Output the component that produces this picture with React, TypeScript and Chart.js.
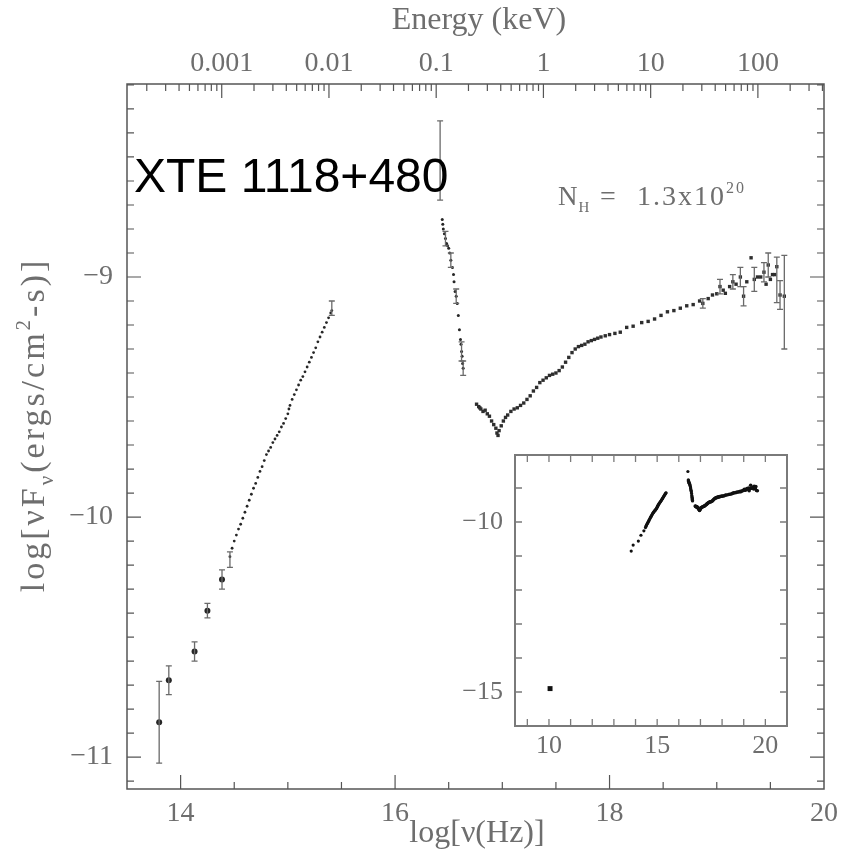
import React, { useEffect, useRef } from "react";
import { Chart, registerables } from "chart.js";

Chart.register(...registerables);

// ---------------- data (log nu [Hz], log nuFnu [ergs/cm^2/s]) ----------------
const irNu = [13.8, 13.89, 14.13, 14.25, 14.386];
const irFlux = [-10.855, -10.68, -10.56, -10.39, -10.26];

const optNu = [
  14.46, 14.48, 14.5, 14.52, 14.54, 14.56, 14.58, 14.6, 14.62, 14.64, 14.66, 14.68,
  14.7, 14.72, 14.74, 14.76, 14.78, 14.8, 14.82, 14.84, 14.86, 14.88, 14.9, 14.92,
  14.94, 14.96, 14.98, 15.0, 15.01, 15.02, 15.04, 15.06, 15.08, 15.1, 15.12, 15.14,
  15.16, 15.18, 15.2, 15.22, 15.24, 15.26, 15.28, 15.3, 15.32, 15.34, 15.36, 15.38,
  15.4, 15.41,
];
const optFlux = [
  -10.165, -10.13, -10.1, -10.075, -10.05, -10.03, -10.005, -9.98, -9.955, -9.93, -9.905, -9.88,
  -9.86, -9.835, -9.81, -9.79, -9.765, -9.74, -9.725, -9.71, -9.69, -9.675, -9.66, -9.645,
  -9.625, -9.61, -9.59, -9.57, -9.55, -9.535, -9.51, -9.49, -9.47, -9.45, -9.43, -9.415,
  -9.395, -9.375, -9.355, -9.335, -9.315, -9.295, -9.27, -9.25, -9.23, -9.21, -9.19, -9.17,
  -9.15, -9.14,
];

const euvNu = [
  16.42, 16.44, 16.445, 16.45, 16.46, 16.47, 16.48, 16.49, 16.5, 16.51, 16.52, 16.535,
  16.545, 16.55, 16.56, 16.57, 16.58, 16.59, 16.6, 16.61, 16.615, 16.62, 16.625, 16.63, 16.635,
];
const euvFlux = [
  -8.515, -8.76, -8.78, -8.8, -8.82, -8.84, -8.86, -8.87, -8.88, -8.9, -8.93, -8.96,
  -8.99, -9.02, -9.06, -9.08, -9.11, -9.16, -9.22, -9.26, -9.28, -9.31, -9.33, -9.36, -9.38,
];

const xrNu = [
  16.76, 16.78, 16.79, 16.8, 16.82, 16.84, 16.86, 16.88, 16.9, 16.92, 16.94, 16.95, 16.96,
  16.97, 16.99, 17.01, 17.03, 17.05, 17.08, 17.11, 17.14, 17.17, 17.2, 17.23, 17.26, 17.29,
  17.32, 17.35, 17.38, 17.41, 17.44, 17.47, 17.5, 17.53, 17.56, 17.59, 17.62, 17.65, 17.68,
  17.71, 17.74, 17.77, 17.8, 17.83, 17.86, 17.89, 17.92, 17.96, 18.0, 18.05, 18.1, 18.16,
  18.22, 18.3, 18.36, 18.42, 18.48, 18.54, 18.6, 18.66, 18.72, 18.78, 18.84, 18.87, 18.92,
  18.96, 19.0, 19.03, 19.06, 19.08, 19.12, 19.15, 19.18, 19.22, 19.25, 19.28, 19.32, 19.35,
  19.38, 19.41, 19.44, 19.46, 19.48, 19.5, 19.52, 19.54, 19.56, 19.59, 19.63,
];
const xrFlux = [
  -9.53, -9.54, -9.545, -9.55, -9.56, -9.555, -9.57, -9.58, -9.6, -9.615, -9.63, -9.65, -9.66,
  -9.64, -9.62, -9.6, -9.585, -9.575, -9.56, -9.55, -9.545, -9.535, -9.525, -9.51, -9.495, -9.475,
  -9.46, -9.44, -9.43, -9.42, -9.41, -9.405, -9.4, -9.39, -9.375, -9.355, -9.335, -9.315, -9.3,
  -9.29, -9.285, -9.28, -9.27, -9.265, -9.26, -9.255, -9.25, -9.245, -9.24, -9.235, -9.23, -9.21,
  -9.205, -9.19, -9.185, -9.175, -9.16, -9.145, -9.14, -9.13, -9.12, -9.115, -9.1, -9.11, -9.09,
  -9.075, -9.07, -9.04, -9.055, -9.068, -9.04, -9.02, -9.03, -9.0, -9.08, -9.02, -8.92, -9.01,
  -9.0, -9.0, -8.98, -9.03, -8.95, -9.01, -8.99, -8.99, -8.957, -9.075, -9.08,
];

// error bars: position, centre, minus, plus
const errBarNu = [
  13.8, 13.89, 14.13, 14.25, 14.386, 14.46, 15.41, 16.42, 16.47, 16.52, 16.57, 16.62, 16.635,
  18.87, 19.03, 19.15, 19.22, 19.25, 19.35, 19.44, 19.48, 19.56, 19.59, 19.63,
];
const errBarFlux = [
  -10.855, -10.68, -10.56, -10.39, -10.26, -10.165, -9.14, -8.515, -8.84, -8.93, -9.08, -9.31, -9.38,
  -9.11, -9.04, -9.02, -9.0, -9.08, -9.01, -8.98, -8.95, -8.957, -9.075, -9.08,
];
const errBarLo = [
  0.17, 0.06, 0.04, 0.03, 0.04, 0.045, 0.02, 0.165, 0.03, 0.03, 0.03, 0.04, 0.03,
  0.02, 0.03, 0.03, 0.04, 0.04, 0.05, 0.04, 0.05, 0.15, 0.06, 0.22,
];
const errBarHi = [
  0.17, 0.06, 0.04, 0.03, 0.04, 0.02, 0.04, 0.165, 0.03, 0.03, 0.03, 0.04, 0.03,
  0.02, 0.03, 0.03, 0.04, 0.04, 0.05, 0.04, 0.05, 0.04, 0.06, 0.17,
];

// radio point shown only in the inset
const radioNu = [10.05];
const radioFlux = [-14.9];

// ---------------- axes ----------------
const xTickValues = [14, 16, 18, 20];
const yTickValues = [-11, -10, -9];
const energyTickKeV = [0.001, 0.01, 0.1, 1, 10, 100];
const energyTickLabels = ["0.001", "0.01", "0.1", "1", "10", "100"];
const insetXTickValues = [10, 15, 20];
const insetYTickValues = [-15, -10];

const X_MIN = 13.5, X_MAX = 20;
const Y_MIN = -11.133, Y_MAX = -8.196;
const IX_MIN = 8.43, IX_MAX = 21.0;
const IY_MIN = -16.0, IY_MAX = -8.03;
const LOG_HZ_PER_KEV = 17.3834; // log10(2.418e17)

const SERIF = "'Liberation Serif', 'DejaVu Serif', serif";
const TEXT_GRAY = "#6e6e6e";
const FRAME = "#555";
const POINT = "#262626";

const toPts = (xs: number[], ys: number[]) => xs.map((x, i) => ({ x, y: ys[i] }));
const energyToLogNu = (e: number) => Math.log10(e) + LOG_HZ_PER_KEV;

function drawRich(ctx: CanvasRenderingContext2D, parts: { t: string; s?: "sub" | "sup" }[], size: number, spacing: number, cx: number, cy: number, rot: number) {
  const f = (p: { s?: string }) => `${p.s ? Math.round(size * 0.62) : size}px ${SERIF}`;
  ctx.save();
  (ctx as any).letterSpacing = `${spacing}px`;
  let total = 0;
  const widths = parts.map((p) => { ctx.font = f(p); const w = ctx.measureText(p.t).width; total += w; return w; });
  ctx.translate(cx, cy);
  ctx.rotate(rot);
  ctx.textBaseline = "alphabetic";
  ctx.textAlign = "left";
  let x = -total / 2;
  parts.forEach((p, i) => {
    ctx.font = f(p);
    const dy = p.s === "sub" ? size * 0.25 : p.s === "sup" ? -size * 0.42 : 0;
    ctx.fillText(p.t, x, size * 0.33 + dy);
    x += widths[i];
  });
  ctx.restore();
}

const mainDecor = {
  id: "mainDecor",
  afterDatasetsDraw(chart: any) {
    const { ctx } = chart;
    const xs = chart.scales.x, ys = chart.scales.y;
    ctx.save();
    ctx.strokeStyle = "#6a6a6a";
    ctx.lineWidth = 1.3;
    errBarNu.forEach((nu, i) => {
      const px = xs.getPixelForValue(nu);
      const yT = ys.getPixelForValue(errBarFlux[i] + errBarHi[i]);
      const yB = ys.getPixelForValue(errBarFlux[i] - errBarLo[i]);
      ctx.beginPath();
      ctx.moveTo(px, yT); ctx.lineTo(px, yB);
      ctx.moveTo(px - 3, yT); ctx.lineTo(px + 3, yT);
      ctx.moveTo(px - 3, yB); ctx.lineTo(px + 3, yB);
      ctx.stroke();
    });
    ctx.restore();
  },
  afterDraw(chart: any) {
    const { ctx } = chart;
    const { left, right, top, bottom } = chart.chartArea;
    const xs = chart.scales.x, ys = chart.scales.y;
    ctx.save();
    ctx.strokeStyle = FRAME;
    ctx.lineWidth = 1.5;
    ctx.strokeRect(left, top, right - left, bottom - top);
    ctx.lineWidth = 1.2;
    ctx.beginPath();
    // bottom ticks every 0.5
    for (let k = 27; k <= 40; k++) {
      const v = k / 2;
      const p = xs.getPixelForValue(v);
      if (p <= left + 1 || p >= right - 1) continue;
      const len = xTickValues.includes(v) ? 14 : 7;
      ctx.moveTo(p, bottom); ctx.lineTo(p, bottom - len);
    }
    // top ticks: log energy
    for (let d = -4; d <= 2; d++) {
      for (let m = 1; m <= 9; m++) {
        const v = energyToLogNu(m * Math.pow(10, d));
        if (v <= X_MIN || v >= X_MAX) continue;
        const p = xs.getPixelForValue(v);
        const len = m === 1 ? 14 : 7;
        ctx.moveTo(p, top); ctx.lineTo(p, top + len);
      }
    }
    // left/right ticks every 0.1
    for (let k = -112; k <= -82; k++) {
      const v = k / 10;
      if (v <= Y_MIN || v >= Y_MAX) continue;
      const p = ys.getPixelForValue(v);
      const len = k % 10 === 0 ? 14 : 7;
      ctx.moveTo(left, p); ctx.lineTo(left + len, p);
      ctx.moveTo(right, p); ctx.lineTo(right - len, p);
    }
    ctx.stroke();

    // axis titles
    ctx.fillStyle = TEXT_GRAY;
    ctx.textAlign = "center";
    ctx.textBaseline = "middle";
    ctx.font = `32px ${SERIF}`;
    ctx.fillText("Energy (keV)", 479, 21);
    ctx.fillText("log[\u03BD(Hz)]", 477, 834);
    drawRich(ctx, [
      { t: "log[\u03BDF" }, { t: "\u03BD", s: "sub" }, { t: "(ergs/cm" }, { t: "2", s: "sup" }, { t: "-s)]" },
    ], 34, 3, 33, 425, -Math.PI / 2);

    // N_H annotation
    ctx.textAlign = "left";
    ctx.textBaseline = "alphabetic";
    ctx.font = `27px ${SERIF}`;
    ctx.fillText("N", 558, 205);
    const wn = ctx.measureText("N").width;
    ctx.font = `15px ${SERIF}`;
    ctx.fillText("H", 558 + wn + 1, 212);
    ctx.font = `28px ${SERIF}`;
    ctx.fillText("=", 600, 205);
    const s = "1.3x10";
    (ctx as any).letterSpacing = "2px";
    ctx.fillText(s, 637, 205);
    const w = ctx.measureText(s).width;
    ctx.font = `16px ${SERIF}`;
    ctx.fillText("20", 637 + w, 193);
    (ctx as any).letterSpacing = "0px";

    // source name
    ctx.fillStyle = "#000";
    ctx.font = "48px 'Liberation Sans', Arial, sans-serif";
    ctx.fillText("XTE 1118+480", 134, 192);
    ctx.restore();
  },
};

const insetDecor = {
  id: "insetDecor",
  beforeDatasetsDraw(chart: any) {
    const { ctx } = chart;
    const { left, right, top, bottom } = chart.chartArea;
    ctx.save();
    ctx.fillStyle = "#fff";
    ctx.fillRect(left, top, right - left, bottom - top);
    ctx.restore();
  },
  afterDraw(chart: any) {
    const { ctx } = chart;
    const { left, right, top, bottom } = chart.chartArea;
    const xs = chart.scales.x, ys = chart.scales.y;
    ctx.save();
    ctx.strokeStyle = "#7a7a7a";
    ctx.lineWidth = 2;
    ctx.strokeRect(left, top, right - left, bottom - top);
    ctx.lineWidth = 1.3;
    ctx.beginPath();
    for (let v = 9; v <= 21; v++) {
      const p = xs.getPixelForValue(v);
      if (p <= left + 1 || p >= right - 1) continue;
      const len = 7;
      ctx.moveTo(p, bottom); ctx.lineTo(p, bottom - len);
      ctx.moveTo(p, top); ctx.lineTo(p, top + len);
    }
    for (let v = -15; v <= -8; v++) {
      const p = ys.getPixelForValue(v);
      if (p <= top + 1 || p >= bottom - 1) continue;
      const len = 7;
      ctx.moveTo(left, p); ctx.lineTo(left + len, p);
      ctx.moveTo(right, p); ctx.lineTo(right - len, p);
    }
    ctx.stroke();
    ctx.restore();
  },
};

const tickFont = { family: SERIF, size: 28 };
const noGrid = { display: false, drawTicks: false };

function mainConfig(): any {
  return {
    type: "scatter",
    data: {
      datasets: [
        { data: toPts(irNu, irFlux), pointRadius: 3, backgroundColor: POINT, borderWidth: 0 },
        { data: toPts(optNu, optFlux), pointRadius: 1.4, backgroundColor: POINT, borderWidth: 0 },
        { data: toPts(euvNu, euvFlux), pointRadius: 1.5, backgroundColor: POINT, borderWidth: 0 },
        { data: toPts(xrNu, xrFlux), pointRadius: 2.4, pointStyle: "rect", backgroundColor: "#2e2e2e", borderWidth: 0 },
      ],
    },
    options: {
      responsive: false,
      animation: false,
      devicePixelRatio: 1,
      events: [],
      layout: { padding: { left: 0, right: 22, top: 0, bottom: 0 } },
      plugins: { legend: { display: false }, tooltip: { enabled: false } },
      scales: {
        x: {
          type: "linear", position: "bottom", min: X_MIN, max: X_MAX,
          grid: noGrid, border: { display: false },
          afterBuildTicks: (s: any) => { s.ticks = xTickValues.map((v) => ({ value: v })); },
          afterFit: (s: any) => { s.height = 65; },
          ticks: { color: TEXT_GRAY, font: tickFont, padding: 8, maxRotation: 0, autoSkip: false, callback: (v: number) => String(v) },
        },
        xTop: {
          type: "linear", position: "top", min: X_MIN, max: X_MAX,
          grid: noGrid, border: { display: false },
          afterBuildTicks: (s: any) => { s.ticks = energyTickKeV.map((e) => ({ value: energyToLogNu(e) })); },
          afterFit: (s: any) => { s.height = 84; },
          ticks: { color: TEXT_GRAY, font: tickFont, padding: 4, maxRotation: 0, autoSkip: false, callback: (_v: number, i: number) => energyTickLabels[i] },
        },
        y: {
          type: "linear", position: "left", min: Y_MIN, max: Y_MAX,
          grid: noGrid, border: { display: false },
          afterBuildTicks: (s: any) => { s.ticks = yTickValues.map((v) => ({ value: v })); },
          afterFit: (s: any) => { s.width = 127; },
          ticks: { color: TEXT_GRAY, font: tickFont, padding: 14, autoSkip: false, callback: (v: number) => "\u2212" + Math.abs(v) },
        },
      },
    },
    plugins: [mainDecor],
  };
}

function insetConfig(): any {
  return {
    type: "scatter",
    data: {
      datasets: [
        { data: toPts(radioNu, radioFlux), pointRadius: 3.5, pointStyle: "rect", backgroundColor: "#111", borderWidth: 0 },
        { data: toPts(irNu, irFlux), pointRadius: 1.6, backgroundColor: "#111", borderWidth: 0 },
        { data: toPts(optNu, optFlux), pointRadius: 1.6, backgroundColor: "#111", borderWidth: 0 },
        { data: toPts(euvNu, euvFlux), pointRadius: 1.6, backgroundColor: "#111", borderWidth: 0 },
        { data: toPts(xrNu, xrFlux), pointRadius: 1.8, backgroundColor: "#111", borderWidth: 0 },
      ],
    },
    options: {
      responsive: false,
      animation: false,
      devicePixelRatio: 1,
      events: [],
      layout: { padding: { left: 0, right: 23, top: 40, bottom: 0 } },
      plugins: { legend: { display: false }, tooltip: { enabled: false } },
      scales: {
        x: {
          type: "linear", position: "bottom", min: IX_MIN, max: IX_MAX,
          grid: noGrid, border: { display: false },
          afterBuildTicks: (s: any) => { s.ticks = insetXTickValues.map((v) => ({ value: v })); },
          afterFit: (s: any) => { s.height = 44; },
          ticks: { color: TEXT_GRAY, font: { family: SERIF, size: 26 }, padding: 5, maxRotation: 0, autoSkip: false, callback: (v: number) => String(v) },
        },
        y: {
          type: "linear", position: "left", min: IY_MIN, max: IY_MAX,
          grid: noGrid, border: { display: false },
          afterBuildTicks: (s: any) => { s.ticks = insetYTickValues.map((v) => ({ value: v })); },
          afterFit: (s: any) => { s.width = 55; },
          ticks: { color: TEXT_GRAY, font: { family: SERIF, size: 26 }, padding: 12, autoSkip: false, callback: (v: number) => "\u2212" + Math.abs(v) },
        },
      },
    },
    plugins: [insetDecor],
  };
}

export default function App() {
  const mainRef = useRef<HTMLCanvasElement>(null);
  const insetRef = useRef<HTMLCanvasElement>(null);
  useEffect(() => {
    const main = new Chart(mainRef.current as HTMLCanvasElement, mainConfig());
    const inset = new Chart(insetRef.current as HTMLCanvasElement, insetConfig());
    return () => {
      main.destroy();
      inset.destroy();
    };
  }, []);
  return (
    <div style={{ position: "absolute", left: 0, top: 0, width: 844, height: 854, background: "#fff", overflow: "hidden" }}>
      <canvas ref={mainRef} width={846} height={854} style={{ position: "absolute", left: 0, top: 0 }} />
      <canvas ref={insetRef} width={350} height={355} style={{ position: "absolute", left: 460, top: 415 }} />
    </div>
  );
}
